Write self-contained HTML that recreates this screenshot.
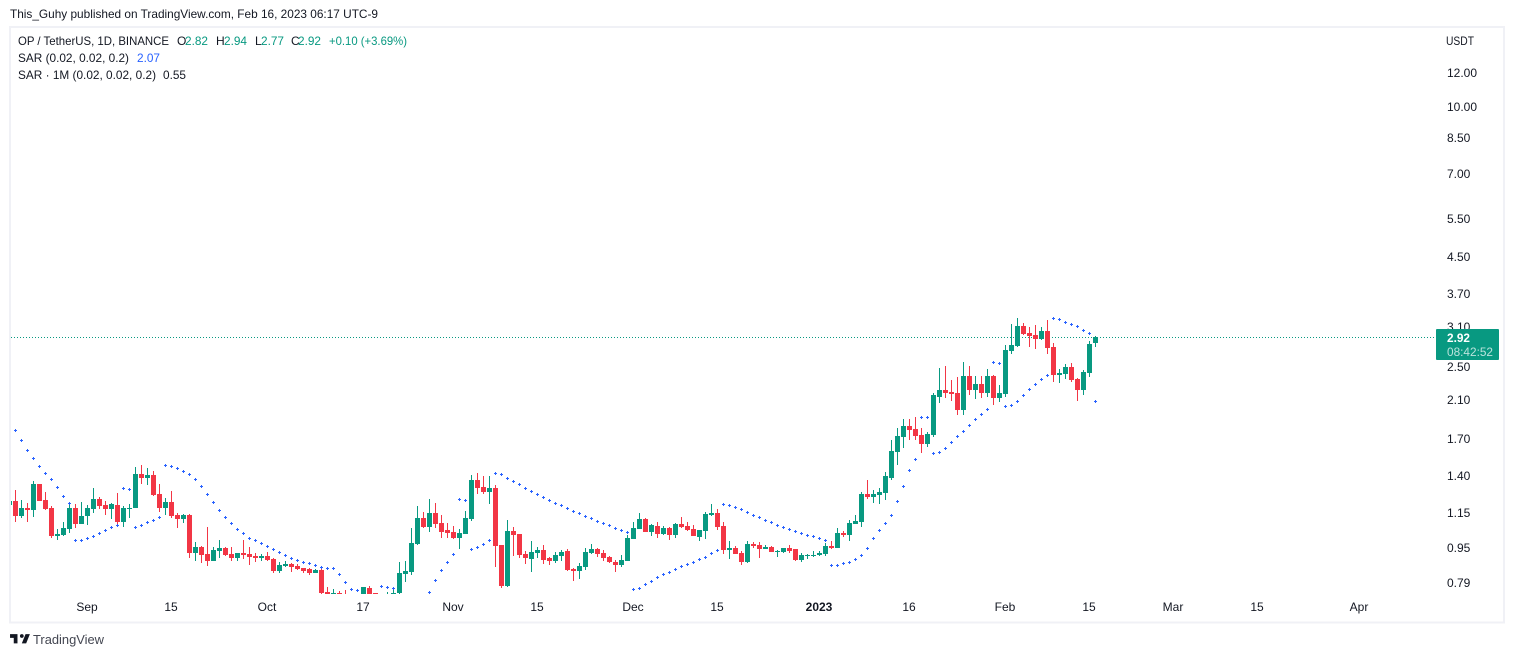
<!DOCTYPE html>
<html lang="en">
<head>
<meta charset="utf-8">
<title>OP / TetherUS chart</title>
<style>
html,body{margin:0;padding:0;background:#fff;width:1514px;height:657px;overflow:hidden}
svg{display:block;font-family:"Liberation Sans",Arial,sans-serif}
text{font-size:12px;fill:#131722}
</style>
</head>
<body>
<svg id="chart" width="1514" height="657" viewBox="0 0 1514 657" xmlns="http://www.w3.org/2000/svg">
  <rect width="1514" height="657" fill="#ffffff"/>
  <text x="10" y="18" textLength="368" lengthAdjust="spacingAndGlyphs">This_Guhy published on TradingView.com, Feb 16, 2023 06:17 UTC-9</text>
  <rect x="10" y="27" width="1494" height="595.5" fill="none" stroke="#f0f1f6" stroke-width="2"/>

  <g id="series-layer" clip-path="url(#plot-clip)">
    <g id="price-line-layer"></g>
    <g id="candle-layer"></g>
    <g id="sar-layer" fill="#2962ff"></g>
  </g>
  <defs>
    <clipPath id="plot-clip"><rect x="11" y="28" width="1425" height="566"/></clipPath>
  </defs>

  <g>
    <text x="18" y="45" textLength="151" lengthAdjust="spacingAndGlyphs">OP / TetherUS, 1D, BINANCE</text>
    <text x="177" y="45">O</text>
    <text x="185" y="45" style="fill:#089981" textLength="23" lengthAdjust="spacingAndGlyphs">2.82</text>
    <text x="216" y="45">H</text>
    <text x="224" y="45" style="fill:#089981" textLength="23" lengthAdjust="spacingAndGlyphs">2.94</text>
    <text x="255" y="45">L</text>
    <text x="261" y="45" style="fill:#089981" textLength="23" lengthAdjust="spacingAndGlyphs">2.77</text>
    <text x="291" y="45">C</text>
    <text x="298" y="45" style="fill:#089981" textLength="23" lengthAdjust="spacingAndGlyphs">2.92</text>
    <text x="329" y="45" style="fill:#089981" textLength="78" lengthAdjust="spacingAndGlyphs">+0.10 (+3.69%)</text>
    <text x="18" y="62" textLength="111" lengthAdjust="spacingAndGlyphs">SAR (0.02, 0.02, 0.2)</text>
    <text x="137" y="62" style="fill:#2962ff" textLength="23" lengthAdjust="spacingAndGlyphs">2.07</text>
    <text x="18" y="79" textLength="138" lengthAdjust="spacingAndGlyphs">SAR · 1M (0.02, 0.02, 0.2)</text>
    <text x="163" y="79" textLength="23" lengthAdjust="spacingAndGlyphs">0.55</text>
  </g>

  <text x="1446" y="45" textLength="28" lengthAdjust="spacingAndGlyphs">USDT</text>
  <g id="price-axis"></g>
  <g id="time-axis"></g>

  <g>
    <rect x="1436" y="329" width="63" height="31" rx="1" fill="#089981"/>
    <text x="1447" y="342" style="fill:#fff;font-weight:bold" textLength="23" lengthAdjust="spacingAndGlyphs">2.92</text>
    <text x="1447" y="356" style="fill:rgba(255,255,255,.72)" textLength="46" lengthAdjust="spacingAndGlyphs">08:42:52</text>
  </g>

  <g>
    <path transform="translate(8.8 630.4) scale(0.62)" fill="#131722" d="M14 6H2v6h6v9h6V6Zm14 15h-7l6-15h7l-6 15Zm-7-9a3 3 0 1 0 0-6 3 3 0 0 0 0 6Z"/>
    <text x="33" y="644" style="font-size:13px;fill:#434651" textLength="71" lengthAdjust="spacingAndGlyphs">TradingView</text>
  </g>
</svg>

<script>
const opens = [1.191,
1.217,1.123,1.172,1.160,1.333,1.224,1.172,1.010,1.015,1.048,
1.172,1.077,1.123,1.166,1.230,1.191,1.166,1.191,1.088,1.166,
1.172,1.406,1.376,1.398,1.263,1.172,1.211,1.129,1.106,1.129,
0.922,0.952,0.917,0.884,0.932,0.947,0.917,0.898,0.922,0.917,
0.908,0.898,0.908,0.893,0.838,0.860,0.870,0.860,0.851,0.847,
0.829,0.842,0.749,0.741,0.745,0.741,0.730,0.730,0.730,0.765,
0.745,0.735,0.730,0.730,0.745,0.825,0.833,0.968,1.112,1.060,
1.142,1.082,1.043,1.032,0.999,1.021,1.106,1.361,1.312,1.277,
1.305,0.962,0.773,1.037,1.021,0.917,0.893,0.922,0.937,0.898,
0.884,0.908,0.932,0.847,0.838,0.856,0.922,0.942,0.922,0.903,
0.879,0.865,0.884,0.994,1.048,1.106,1.032,1.065,1.021,1.054,
1.015,1.077,1.065,1.048,1.004,1.037,1.129,1.142,1.065,0.937,
0.947,0.922,0.879,0.968,0.962,0.942,0.952,0.927,0.927,0.947,
0.942,0.888,0.908,0.908,0.912,0.917,0.957,0.947,1.026,1.015,
1.077,1.088,1.263,1.243,1.257,1.270,1.376,1.581,1.712,1.816,
1.787,1.731,1.650,1.731,2.120,2.200,2.177,2.165,1.978,2.371,
2.200,2.272,2.165,2.371,2.108,2.154,2.709,2.782,3.096,2.982,
2.950,2.888,3.014,2.768,2.384,2.396,2.487,2.333,2.200,2.409,2.82];

const highs = [1.217,
1.291,1.224,1.204,1.354,1.333,1.277,1.185,1.048,1.088,1.204,
1.198,1.211,1.191,1.305,1.243,1.217,1.204,1.270,1.185,1.198,
1.459,1.475,1.451,1.428,1.333,1.237,1.284,1.142,1.136,1.136,
0.978,0.957,1.060,0.952,0.989,0.952,0.952,0.922,0.989,0.952,
0.922,0.917,0.927,0.898,0.879,0.884,0.874,0.870,0.851,0.851,
0.847,0.847,0.769,0.761,0.753,0.757,0.735,0.735,0.769,0.773,
0.745,0.738,0.749,0.769,0.879,0.884,1.054,1.185,1.148,1.230,
1.204,1.129,1.082,1.065,1.048,1.154,1.398,1.413,1.391,1.391,
1.326,0.962,1.100,1.060,1.021,0.932,0.983,0.952,0.962,0.903,
0.927,0.937,0.942,0.851,0.874,0.947,0.968,0.947,0.937,0.908,
0.888,0.912,1.015,1.088,1.142,1.112,1.077,1.088,1.065,1.060,
1.082,1.118,1.088,1.071,1.043,1.148,1.198,1.166,1.088,0.983,
0.957,0.932,0.983,0.978,0.978,0.962,0.957,0.937,0.947,0.962,
0.942,0.922,0.917,0.932,0.932,0.973,0.983,1.054,1.037,1.100,
1.129,1.277,1.361,1.291,1.305,1.421,1.685,1.797,1.885,1.885,
1.905,1.797,1.759,2.165,2.474,2.501,2.321,2.358,2.555,2.501,
2.371,2.371,2.461,2.384,2.260,2.797,3.129,3.230,3.145,3.079,
3.112,3.079,3.196,2.827,2.461,2.528,2.541,2.346,2.448,2.858,2.94];

const lows = [1.191,
1.088,1.112,1.088,1.118,1.217,1.160,0.999,0.989,1.010,1.026,
1.054,1.077,1.071,1.142,1.166,1.129,1.106,1.065,1.060,1.112,
1.172,1.333,1.326,1.250,1.148,1.129,1.112,1.054,1.082,0.898,
0.884,0.874,0.860,0.884,0.898,0.908,0.884,0.884,0.893,0.865,
0.879,0.884,0.884,0.829,0.829,0.856,0.833,0.842,0.829,0.820,
0.829,0.741,0.741,0.741,0.741,0.737,0.715,0.715,0.720,0.720,
0.720,0.720,0.720,0.720,0.741,0.790,0.820,0.962,1.054,1.032,
1.054,0.999,0.999,0.994,0.942,1.021,1.094,1.263,1.263,1.198,
0.856,0.765,0.769,0.908,0.898,0.870,0.833,0.898,0.870,0.865,
0.874,0.884,0.838,0.794,0.803,0.842,0.917,0.903,0.884,0.874,
0.833,0.856,0.884,0.994,1.048,1.032,1.010,0.999,1.015,0.989,
0.999,1.054,1.037,1.010,0.983,0.994,1.123,1.043,0.917,0.893,
0.917,0.865,0.874,0.947,0.898,0.942,0.927,0.903,0.922,0.922,
0.884,0.879,0.893,0.903,0.908,0.908,0.942,0.947,1.004,0.983,
1.077,1.060,1.230,1.204,1.198,1.224,1.361,1.475,1.615,1.685,
1.685,1.572,1.623,1.712,2.053,2.108,2.075,1.926,1.926,2.142,
2.097,2.108,2.120,2.031,2.064,2.120,2.666,2.768,2.950,2.768,
2.738,2.873,2.666,2.296,2.284,2.333,2.296,2.075,2.142,2.358,2.77];

const closes = [1.217,
1.123,1.172,1.160,1.333,1.217,1.166,1.010,1.021,1.054,1.172,
1.077,1.123,1.172,1.230,1.185,1.166,1.198,1.088,1.172,1.172,
1.406,1.376,1.398,1.257,1.172,1.211,1.123,1.106,1.129,0.922,
0.952,0.912,0.884,0.937,0.947,0.912,0.898,0.922,0.912,0.903,
0.898,0.908,0.888,0.838,0.865,0.870,0.856,0.847,0.838,0.829,
0.842,0.745,0.741,0.745,0.741,0.737,0.725,0.725,0.769,0.730,
0.730,0.730,0.735,0.745,0.829,0.838,0.973,1.112,1.060,1.142,
1.077,1.032,1.026,0.999,1.026,1.112,1.361,1.305,1.277,1.305,
0.957,0.773,1.037,1.015,0.912,0.898,0.927,0.937,0.888,0.884,
0.912,0.927,0.842,0.838,0.860,0.927,0.942,0.917,0.898,0.879,
0.865,0.888,0.999,1.054,1.106,1.032,1.071,1.021,1.054,1.015,
1.077,1.060,1.043,1.010,1.043,1.136,1.142,1.060,0.937,0.947,
0.917,0.879,0.968,0.957,0.942,0.952,0.927,0.932,0.947,0.932,
0.888,0.912,0.912,0.912,0.922,0.957,0.947,1.026,1.015,1.082,
1.094,1.263,1.243,1.263,1.277,1.391,1.589,1.722,1.816,1.778,
1.722,1.650,1.740,2.142,2.200,2.165,2.154,1.978,2.371,2.200,
2.272,2.165,2.371,2.108,2.165,2.724,2.797,3.096,2.966,2.935,
2.888,3.014,2.753,2.384,2.409,2.487,2.321,2.200,2.422,2.812,2.92];

const sarValues = [1.885,
1.778,1.685,1.598,1.531,1.467,1.413,1.369,1.312,1.250,1.204,
0.989,0.989,0.999,1.010,1.026,1.043,1.060,1.071,1.305,1.298,
1.060,1.071,1.088,1.100,1.118,1.475,1.467,1.451,1.428,1.406,
1.369,1.319,1.263,1.211,1.160,1.118,1.082,1.048,1.026,0.999,
0.989,0.973,0.957,0.942,0.927,0.912,0.898,0.888,0.879,0.874,
0.865,0.856,0.851,0.851,0.825,0.790,0.761,0.757,0.720,0.720,
0.720,0.773,0.769,0.765,0.720,0.720,0.720,0.720,0.720,0.749,
0.799,0.842,0.879,0.917,1.230,1.224,0.942,0.952,0.968,0.989,
1.413,1.406,1.376,1.354,1.333,1.305,1.284,1.263,1.243,1.224,
1.204,1.191,1.172,1.154,1.142,1.123,1.112,1.094,1.082,1.071,
1.054,1.043,1.032,0.761,0.765,0.782,0.794,0.811,0.825,0.833,
0.847,0.860,0.870,0.879,0.893,0.903,0.922,0.937,1.198,1.191,
1.179,1.166,1.148,1.129,1.118,1.100,1.088,1.071,1.060,1.048,
1.037,1.026,1.015,1.010,0.999,0.989,0.865,0.865,0.874,0.879,
0.893,0.912,0.947,0.999,1.043,1.082,1.129,1.217,1.319,1.436,
1.523,1.905,1.905,1.572,1.581,1.615,1.667,1.722,1.768,1.826,
1.885,1.936,1.988,2.555,2.541,2.020,2.031,2.075,2.142,2.212,
2.272,2.333,2.384,3.230,3.213,3.162,3.129,3.096,3.030,2.982,2.07];

const priceTicks = [12, 10, 8.5, 7, 5.5, 4.5, 3.7, 3.1, 2.5, 2.1, 1.7, 1.4, 1.15, 0.95, 0.79];
const timeLabels = ["Sep","15","Oct","17","Nov","15","Dec","15","2023","16","Feb","15","Mar","15","Apr"];
const timeLabelBars = [13,27,43,59,74,88,104,118,135,150,166,180,194,208,225];
const lastPrice = 2.92;

const NS = "http://www.w3.org/2000/svg";
const UP = "#089981";
const DOWN = "#f23645";

function yScale(price) { return 72 + 187.46 * Math.log(12 / price); }
function xScale(bar) { return 9 + 6 * bar; }

function make(parent, tag, attrs) {
  const el = document.createElementNS(NS, tag);
  for (const k in attrs) el.setAttribute(k, attrs[k]);
  parent.appendChild(el);
  return el;
}

const candleLayer = document.getElementById("candle-layer");
const sarLayer = document.getElementById("sar-layer");
const priceLineLayer = document.getElementById("price-line-layer");
const priceAxis = document.getElementById("price-axis");
const timeAxis = document.getElementById("time-axis");

const priceLine = make(priceLineLayer, "line", {
  x1: 11, x2: 1436,
  y1: Math.round(yScale(lastPrice)) + 0.5, y2: Math.round(yScale(lastPrice)) + 0.5,
  stroke: UP, "stroke-width": 1, "stroke-dasharray": "1 2"
});



opens.forEach(function (open, i) {
  const close = closes[i];
  const color = close >= open ? UP : DOWN;
  const x = xScale(i);
  const top = Math.round(yScale(Math.max(open, close)));
  const bottom = Math.round(yScale(Math.min(open, close)));
  const high = Math.round(yScale(highs[i]));
  const low = Math.round(yScale(lows[i]));
  const g = make(candleLayer, "g", { fill: color, "shape-rendering": "crispEdges" });
  
  
  const wick = make(g, "rect", { x: x, y: high, width: 1, height: Math.max(1, low - high) });
  
  
  const body = make(g, "rect", { x: x - 2, y: top, width: 5, height: Math.max(1, bottom - top) });
  
  
});

sarValues.forEach(function (value, i) {
  const x = xScale(i);
  const y = Math.round(yScale(value));
  const g = make(sarLayer, "g", { "shape-rendering": "crispEdges" });
  
  
  make(g, "rect", { x: x - 1, y: y, width: 3, height: 1 });
  make(g, "rect", { x: x, y: y - 1, width: 1, height: 3 });
});

priceTicks.forEach(function (tick) {
  const t = make(priceAxis, "text", { x: 1447, y: Math.round(yScale(tick)) + 5 });
  t.textContent = tick.toFixed(2);
  
  
});

timeLabels.forEach(function (label, i) {
  const t = make(timeAxis, "text", { x: xScale(timeLabelBars[i]), y: 611, "text-anchor": "middle" });
  t.textContent = label;
  if (label === "2023") t.setAttribute("font-weight", "bold");
  
  
});
</script>
</body>
</html>
